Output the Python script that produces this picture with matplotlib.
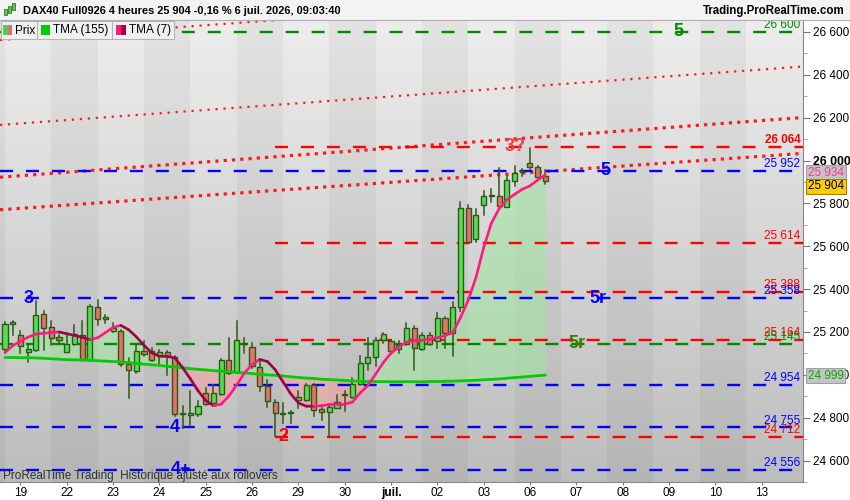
import matplotlib
matplotlib.use('Agg')
import matplotlib.pyplot as plt
import matplotlib.transforms as mtransforms
from matplotlib.collections import LineCollection
from matplotlib.patches import Rectangle
import numpy as np

plt.rcParams['font.family'] = ['Liberation Sans', 'DejaVu Sans']

# 4h bars: index 0 = 18 juin 16h ... index 70 = 6 juil. 08h
opens = [25121, 25237, 25187, 25105, 25114, 25285, 25223, 25177, 25105, 25143,
         25187, 25068, 25317, 25261, 25203, 25203, 25052, 25016, 25110, 25110,
         25086, 25107, 25082, 24818, 24815, 24819, 24915, 24869, 24911, 25071,
         25012, 25146, 25130, 25035, 24950, 24872, 24818, 24820, 24881, 24884,
         24954, 24841, 24827, 24846, 24908, 24897, 24959, 25055, 25083, 25164,
         25156, 25120, 25145, 25218, 25121, 25187, 25156, 25265, 25195, 25317,
         25778, 25634, 25793, 25833, 25835, 25783, 25907, 25945, 25988, 25972,
         25926]
highs = [25245, 25250, 25206, 25141, 25347, 25296, 25253, 25187, 25187, 25234,
         25253, 25327, 25351, 25281, 25242, 25210, 25079, 25141, 25156, 25125,
         25117, 25110, 25086, 24853, 24923, 24876, 24939, 24954, 25074, 25172,
         25250, 25172, 25150, 25071, 24978, 24884, 24869, 24831, 24923, 24958,
         24958, 24845, 24864, 24908, 24926, 24985, 25090, 25172, 25172, 25195,
         25164, 25160, 25242, 25226, 25195, 25195, 25289, 25270, 25338, 25809,
         25793, 25773, 25860, 25867, 25967, 25926, 25975, 25960, 26058, 25975,
         25957]
lows = [25102, 25187, 25102, 25058, 25111, 25117, 25141, 25149, 25105, 25141,
        25068, 25065, 25234, 25242, 25200, 25043, 24892, 25009, 25086, 25063,
        25040, 25001, 24810, 24752, 24768, 24810, 24861, 24861, 24908, 25006,
        25009, 25102, 25032, 24923, 24850, 24713, 24776, 24776, 24846, 24880,
        24807, 24791, 24713, 24845, 24830, 24893, 24955, 25024, 25043, 25149,
        25110, 25100, 25140, 25021, 25115, 25140, 25125, 25125, 25090, 25296,
        25622, 25618, 25747, 25809, 25789, 25783, 25882, 25929, 25960, 25918,
        25891]
closes = [25237, 25247, 25133, 25121, 25281, 25219, 25172, 25161, 25145, 25189,
          25071, 25323, 25261, 25270, 25219, 25052, 25021, 25113, 25098, 25071,
          25107, 25086, 24818, 24820, 24822, 24853, 24864, 24915, 25071, 25009,
          25164, 25150, 25043, 24950, 24876, 24822, 24817, 24825, 24895, 24954,
          24838, 24827, 24850, 24872, 24912, 24958, 25055, 25083, 25164, 25192,
          25113, 25140, 25218, 25125, 25187, 25145, 25265, 25195, 25317, 25778,
          25622, 25747, 25835, 25837, 25789, 25910, 25944, 25949, 25969, 25923,
          25904]

tma155 = [25081, 25081, 25080, 25080, 25079, 25077, 25075, 25073, 25071, 25070,
          25069, 25068, 25066, 25064, 25062, 25060, 25057, 25054, 25050, 25047,
          25044, 25040, 25036, 25033, 25029, 25026, 25023, 25020, 25017, 25014,
          25011, 25009, 25006, 25003, 25000, 24998, 24995, 24991, 24988, 24985,
          24983, 24980, 24978, 24976, 24974, 24972, 24970, 24969, 24969, 24968,
          24968, 24968, 24968, 24968, 24968, 24969, 24969, 24970, 24971, 24972,
          24973, 24975, 24977, 24979, 24981, 24984, 24987, 24990, 24993, 24996,
          24999]
tma7 = [25104, 25136, 25157, 25176, 25190, 25194, 25197, 25200, 25192, 25184,
        25175, 25164, 25173, 25197, 25222, 25231, 25211, 25178, 25138, 25103,
        25087, 25086, 25079, 25034, 24982, 24926, 24880, 24856, 24863, 24901,
        24952, 25008, 25048, 25072, 25062, 25024, 24968, 24912, 24869, 24854,
        24853, 24856, 24861, 24864, 24864, 24873, 24915, 24950, 25003, 25057,
        25101, 25130, 25152, 25162, 25162, 25166, 25173, 25183, 25197, 25267,
        25348, 25453, 25593, 25708, 25775, 25817, 25842, 25866, 25882, 25909,
        25934]

day_ticks = [2, 8, 14, 20, 26, 32, 38, 44, 50, 56, 62, 68, 74, 80, 86, 92, 98]
day_labels = ['19', '22', '23', '24', '25', '26', '29', '30', 'juil.', '02', '03',
              '06', '07', '08', '09', '10', '13']

# horizontal levels
level_prices = [26600, 26064, 25952, 25614, 25388, 25358, 25164, 25145, 24954, 24755, 24712, 24556]
level_kind = ['g', 'r', 'b', 'r', 'r', 'b', 'r', 'g', 'b', 'b', 'r', 'b']

# dotted channel lines: price at bar 0 and slope per bar
channel_start = [26564, 26168, 25924, 25772]
channel_slope = [2.6, 2.62, 2.68, 2.53]

# wave labels
wave_text = ['3', '4', '4+', '2', '3?', '5', '5r', '5r', '5']
wave_x = [3.0, 22.0, 22.8, 36.0, 66.1, 77.8, 76.8, 74.1, 87.2]
wave_price = [25358, 24755, 24556, 24712, 26064, 25952, 25358, 25145, 26600]
wave_kind = ['b', 'b', 'b', 'r', 'r2', 'b', 'b', 'g2', 'g']

colors = {'g': '#008a00', 'r': '#ff0000', 'b': '#0000ff', 'r2': '#f04040', 'g2': '#3a7a00'}

W, H = 850, 500
fig = plt.figure(figsize=(8.5, 5), dpi=100)
fig.patch.set_facecolor('white')
ax = fig.add_axes([0, 18 / H, 803 / W, 462 / H])

x0, x1 = -0.648, 103.37
y0, y1 = 24502, 26656

# background gradient + day stripes
grad = np.linspace(0, 1, 256)[:, None]
top = np.array([0.93, 0.93, 0.93])
bot = np.array([0.74, 0.74, 0.74])
img = top[None, None, :] * (1 - grad[:, :, None]) + bot[None, None, :] * grad[:, :, None]
ax.imshow(img, extent=[0, 1, 0, 1], transform=ax.transAxes, aspect='auto', zorder=0)
for d in range(-6, 100, 12):
    ax.axvspan(d, d + 6, color='k', alpha=0.04, lw=0, zorder=0.5)

xs = np.arange(len(closes))
t7 = np.array(tma7, dtype=float)
t155 = np.array(tma155, dtype=float)

# fills between the two averages
ax.fill_between(xs, t7, t155, where=t7 >= t155, interpolate=True,
                color='#9fe89f', alpha=0.55, lw=0, zorder=1)
ax.fill_between(xs, t7, t155, where=t7 < t155, interpolate=True,
                color='#f2a0a0', alpha=0.6, lw=0, zorder=1)

# channel dotted lines
cx = np.array([x0, x1])
for k, (p0, s) in enumerate(zip(channel_start, channel_slope)):
    big = k >= 2
    ax.plot(cx, p0 + s * cx, color='#ff1a1a', lw=2.3 if big else 1.6,
            linestyle=(0, (1, 1.6)) if big else (0, (1, 2.6)),
            dash_capstyle='butt', zorder=2)

# horizontal dashed levels
for p, k in zip(level_prices, level_kind):
    start = 35 if k == 'r' else x0
    ax.plot([start, x1], [p, p], color=colors[k], lw=1.7,
            linestyle=(0, (5.5, 5.5)), dash_capstyle='butt', zorder=2)
    txt = f'{p:,}'.replace(',', ' ')
    ax.text(103.0, p + 4, txt, color=colors[k], fontsize=8.5, ha='right', va='bottom',
            fontweight='bold' if p == 26064 else 'normal', zorder=6)

# candles
edge = '#2b5a12'
for i in range(len(closes)):
    o, h, l, c = opens[i], highs[i], lows[i], closes[i]
    ax.plot([i, i], [l, h], color=edge, lw=1.1, zorder=3)
    fc = '#55dd55' if c >= o else '#e8706c'
    b = min(o, c)
    hh = max(abs(c - o), 4)
    ax.add_patch(Rectangle((i - 0.33, b), 0.66, hh, facecolor=fc, edgecolor=edge,
                           lw=1.0, zorder=4))

# averages
ax.plot(xs, t155, color='#00cc00', lw=2.0, zorder=5, solid_capstyle='round')
pts = np.column_stack([xs, t7])
segs = np.stack([pts[:-1], pts[1:]], axis=1)
seg_cols = ['#ff1a80' if t7[j + 1] >= t7[j] else '#a00048' for j in range(len(t7) - 1)]
ax.add_collection(LineCollection(segs, colors=seg_cols, linewidths=1.9, zorder=5,
                                 capstyle='round'))

# wave labels
for t, wx, wp, k in zip(wave_text, wave_x, wave_price, wave_kind):
    ax.text(wx, wp, t, color=colors[k], fontsize=13, fontweight='bold',
            ha='center', va='center', zorder=7)

ax.set_xlim(x0, x1)
ax.set_ylim(y0, y1)

# axes styling
for s in ['left', 'top']:
    ax.spines[s].set_visible(False)
ax.spines['right'].set_color('#888888')
ax.spines['bottom'].set_color('#888888')
ax.yaxis.tick_right()
yt = list(range(24600, 26601, 200))
ax.set_yticks(yt)
ax.set_yticklabels([f'{v:,}'.replace(',', ' ') for v in yt])
ax.set_yticks(list(range(24500, 26651, 100)), minor=True)
ax.tick_params(axis='y', which='major', length=5, color='#777777', labelsize=8.5, pad=2)
ax.tick_params(axis='y', which='minor', length=3, color='#999999')
for lab in ax.get_yticklabels():
    if lab.get_text() == '26 000':
        lab.set_fontweight('bold')
        lab.set_fontsize(8.8)
ax.set_xticks(day_ticks)
ax.set_xticklabels(day_labels)
ax.tick_params(axis='x', length=2.5, color='#777777', labelsize=8.5, pad=1)
for lab in ax.get_xticklabels():
    if lab.get_text() == 'juil.':
        lab.set_fontweight('bold')

# last value boxes on the price axis
blend = mtransforms.blended_transform_factory(ax.transAxes, ax.transData)
ax.text(1.006, 25943, '25 934', transform=blend, color='#ff3399', fontsize=8.5,
        va='center', ha='left', zorder=8, clip_on=False,
        bbox=dict(boxstyle='square,pad=0.15', fc='#c4c4c4', ec='#a0a0a0', lw=0.8))
ax.text(1.006, 25880, '25 904', transform=blend, color='black', fontsize=8.5,
        va='center', ha='left', zorder=8, clip_on=False,
        bbox=dict(boxstyle='square,pad=0.15', fc='#ffcc00', ec='#a08000', lw=0.8))
ax.text(1.006, 24996, '24 999', transform=blend, color='#00aa00', fontsize=8.5,
        va='center', ha='left', zorder=8, clip_on=False,
        bbox=dict(boxstyle='square,pad=0.15', fc='#c4c4c4', ec='#a0a0a0', lw=0.8))


def fx(px):
    return px / W


def fy(py):
    return 1 - py / H


def frect(x, y, w, h, **kw):
    fig.patches.append(Rectangle((fx(x), fy(y + h)), w / W, h / H,
                                 transform=fig.transFigure, **kw))


# header bar
frect(0, 0, 850, 20, facecolor='#f3f3f3', edgecolor='none', zorder=10)
fig.lines.append(plt.Line2D([0, 1], [fy(20), fy(20)], transform=fig.transFigure,
                            color='#b0b0b0', lw=0.8, zorder=11))
for cx_, cy_, ch in [(5, 9, 6), (9, 6, 7), (13, 3, 7)]:
    frect(cx_ - 1.5, cy_, 3, ch, facecolor='#55cc55', edgecolor='#2b5a12', lw=0.5, zorder=11)
fig.text(fx(23), fy(11), 'DAX40 Full0926 4 heures 25 904 -0,16 % 6 juil. 2026, 09:03:40',
         fontsize=7.9, fontweight='bold', va='center', ha='left', zorder=12)
fig.text(fx(845), fy(11), 'Trading.ProRealTime.com', fontsize=8.3, fontweight='bold',
         va='center', ha='right', zorder=12)

# legend row
frect(1, 21, 173, 18, facecolor='#f0f0f0', edgecolor='#b4b4b4', lw=0.8, zorder=10)
for dx in [37, 112]:
    fig.lines.append(plt.Line2D([fx(dx), fx(dx)], [fy(21), fy(39)], transform=fig.transFigure,
                                color='#b4b4b4', lw=0.8, zorder=11))
frect(3, 25, 4.5, 10, facecolor='#55cc55', edgecolor='none', zorder=11)
frect(7.5, 25, 4.5, 10, facecolor='#e07070', edgecolor='none', zorder=11)
frect(41, 25, 9, 10, facecolor='#00cc00', edgecolor='none', zorder=11)
frect(116, 25, 5, 10, facecolor='#ff1a80', edgecolor='none', zorder=11)
frect(121, 25, 4.5, 10, facecolor='#a00048', edgecolor='none', zorder=11)
fig.text(fx(15), fy(30.5), 'Prix', fontsize=8.5, va='center', ha='left', zorder=12)
fig.text(fx(53), fy(30.5), 'TMA (155)', fontsize=8.5, va='center', ha='left', zorder=12)
fig.text(fx(129), fy(30.5), 'TMA (7)', fontsize=8.5, va='center', ha='left', zorder=12)

# footer note
fig.text(fx(3), fy(476), 'ProRealTime Trading  Historique ajusté aux rollovers',
         fontsize=8.5, color='#303030', va='center', ha='left', zorder=12)

fig.savefig('out.png', dpi=100)
